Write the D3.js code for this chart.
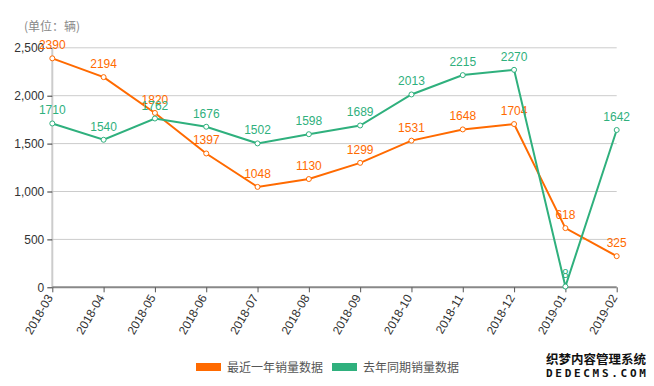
<!DOCTYPE html>
<html><head><meta charset="utf-8">
<script src="https://cdn.jsdelivr.net/npm/d3@7"></script>
<style>body{margin:0;background:#fff;font-family:"Liberation Sans",Arial,"Noto Sans CJK SC",sans-serif;}</style>
</head><body><svg id="c" width="654" height="386"></svg>
<script>
const months = ["2018-03","2018-04","2018-05","2018-06","2018-07","2018-08","2018-09","2018-10","2018-11","2018-12","2019-01","2019-02"];
const recentSales = [2390,2194,1820,1397,1048,1130,1299,1531,1648,1704,618,325];
const lastYearSales = [1710,1540,1762,1676,1502,1598,1689,2013,2215,2270,8,1642];
const yTicks = [0,500,1000,1500,2000,2500];
const seriesNames = ["最近一年销量数据","去年同期销量数据"];
const colors = ["#ff6a00","#2fb07d"];

(function(){
const svg = d3.select("#c");
const mLeft = 52.3, mRight = 616.7, mTop = 47.8, mBottom = 287.3;
const x = d3.scalePoint().domain(months).range([mLeft, mRight]);
const y = d3.scaleLinear().domain([0, 2500]).range([mBottom, mTop]);
const font = '"Liberation Sans",Arial,sans-serif';

// grid
svg.append("g").selectAll("line").data(yTicks.filter(d=>d>0)).join("line")
  .attr("x1", mLeft).attr("x2", mRight).attr("y1", d=>y(d)).attr("y2", d=>y(d))
  .attr("stroke", "#ccc").attr("stroke-width", 1);

// y axis
const yAxis = svg.append("g").attr("transform", `translate(${mLeft},0)`)
  .call(d3.axisLeft(y).tickValues(yTicks).tickSize(5).tickPadding(3).tickFormat(d3.format(",")));
yAxis.select(".domain").attr("stroke", "#ccc").attr("stroke-width", 2).attr("d", `M0,${mTop}V${mBottom}`);
yAxis.selectAll(".tick line").attr("stroke", "#333");
yAxis.selectAll("text").attr("font-size", 12).attr("font-family", font).attr("fill", "#333");

// x axis
const xAxis = svg.append("g").attr("transform", `translate(0,${mBottom})`)
  .call(d3.axisBottom(x).tickSize(5).tickPadding(4));
xAxis.select(".domain").attr("stroke", "#888").attr("stroke-width", 2).attr("d", `M${mLeft},0H${mRight}`);
xAxis.selectAll(".tick line").attr("stroke", "#555");
xAxis.selectAll("text").attr("font-size", 12).attr("font-family", font).attr("fill", "#333")
  .attr("text-anchor", "end").attr("dy", "0.35em")
  .attr("transform", "translate(-3,8) rotate(-60)").attr("x", 0).attr("y", 0);

// unit label
svg.append("text").attr("x", 24).attr("y", 31).attr("font-size", 12).attr("fill", "#888")
  .attr("font-family", '"Noto Sans CJK SC",sans-serif').text("(单位：辆)");

const line = d3.line().x((d,i)=>x(months[i])).y(d=>y(d));
[recentSales, lastYearSales].forEach((data, k) => {
  const g = svg.append("g");
  g.append("path").datum(data).attr("d", line).attr("fill", "none")
    .attr("stroke", colors[k]).attr("stroke-width", 2);
  g.selectAll("circle").data(data).join("circle")
    .attr("cx", (d,i)=>x(months[i])).attr("cy", d=>y(d)).attr("r", 2.5)
    .attr("fill", "#fff").attr("stroke", colors[k]).attr("stroke-width", 1);
  g.selectAll("text").data(data).join("text")
    .attr("x", (d,i)=>x(months[i])).attr("y", d=>y(d) - 9)
    .attr("text-anchor", "middle").attr("font-size", 12).attr("font-family", font)
    .attr("fill", colors[k]).text(d=>d);
});

// legend
const legendX = [196, 332];
seriesNames.forEach((n, k) => {
  svg.append("rect").attr("x", legendX[k]).attr("y", 363).attr("width", 25).attr("height", 8).attr("fill", colors[k]);
  svg.append("text").attr("x", legendX[k] + 31).attr("y", 371.5).attr("font-size", 12)
    .attr("font-family", '"Noto Sans CJK SC",sans-serif').attr("fill", "#555").text(n);
});

// watermark
svg.append("text").attr("x", 546).attr("y", 364).attr("font-size", 12.5).attr("font-weight", "bold")
  .attr("font-family", '"Noto Sans CJK SC",sans-serif').attr("fill", "#111")
  .attr("stroke", "#fff").attr("stroke-width", 2.5).attr("paint-order", "stroke").text("织梦内容管理系统");
svg.append("text").attr("x", 546).attr("y", 377).attr("font-size", 11).attr("font-weight", "bold")
  .attr("letter-spacing", 2.7).attr("font-family", '"DejaVu Sans Mono",monospace').attr("fill", "#111")
  .attr("stroke", "#fff").attr("stroke-width", 2.5).attr("paint-order", "stroke").text("DEDECMS.COM");
})();
</script></body></html>
